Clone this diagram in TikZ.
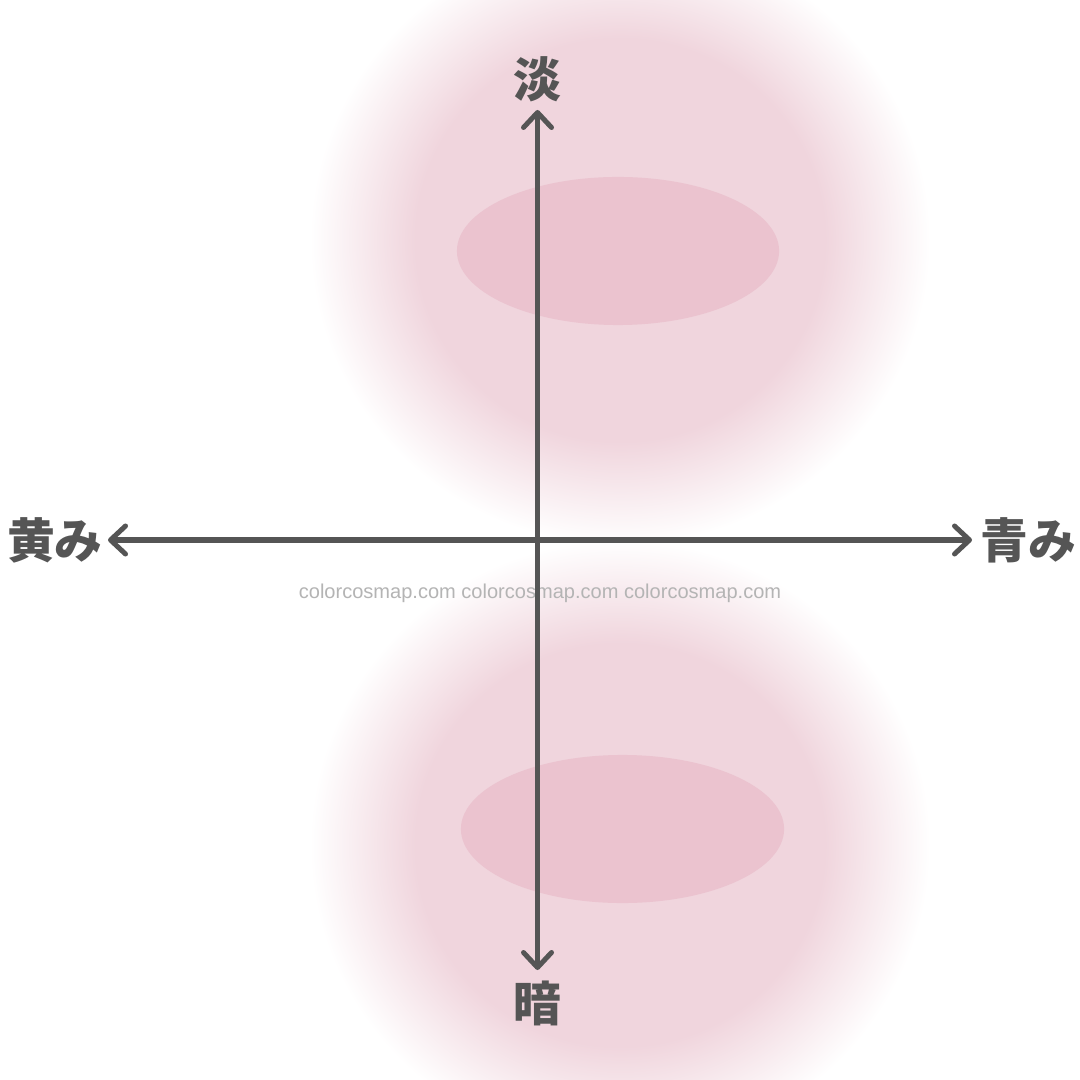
\documentclass[tikz,border=0pt]{standalone}
\usepackage{fontspec}
\setmainfont{Liberation Sans}
\newfontfamily\cjk{Noto Sans CJK JP}
\usetikzlibrary{arrows.meta}
\definecolor{blobc}{RGB}{240,213,221}
\definecolor{innerc}{RGB}{235,195,207}
\definecolor{axisc}{RGB}{85,85,85}
\definecolor{wmc}{RGB}{180,180,180}
\pgfdeclareradialshading{blob}{\pgfpoint{0bp}{0bp}}{color(0bp)=(blobc); color(16.5bp)=(blobc); color(25bp)=(white); color(50bp)=(white)}
\begin{document}
\begin{tikzpicture}[x=0.01cm,y=-0.01cm,
  axis/.style={draw=axisc, line width=0.05cm, >={Straight Barb[length=0.15cm,width=0.28cm,round]}, <->},
  lab/.style={text=axisc, font=\cjk\bfseries\fontsize{13.6}{16}\selectfont, inner sep=0pt},
  wm/.style={text=wmc, font=\fontsize{5.7}{7}\selectfont, inner sep=0pt},
  blobfill/.style={shading=blob},
  innerfill/.style={fill=innerc}]
\useasboundingbox (0,0) rectangle (1080,1080);
\clip (0,0) rectangle (1080,1080);
\fill[white] (0,0) rectangle (1080,1080);
% soft blobs
\shade[blobfill] (620,240) ellipse [x radius=3.1cm, y radius=3.05cm];
\shade[blobfill] (620,845) ellipse [x radius=3.1cm, y radius=3.05cm];
% inner ellipses
\fill[innerfill] (618,251) ellipse [x radius=1.61cm, y radius=0.74cm];
\fill[innerfill] (622.5,829) ellipse [x radius=1.615cm, y radius=0.74cm];
% watermark
\node[wm] (wmark) at (540,593) {colorcosmap.com colorcosmap.com colorcosmap.com};
% axes
\coordinate (top) at (537.5,110);
\coordinate (bot) at (537.5,970);
\coordinate (lft) at (108,540);
\coordinate (rgt) at (972,540);
\draw[axis] (lft) -- (rgt);
\draw[axis] (bot) -- (top);
% labels
\node[lab] (tan) at (537,79) {淡};
\node[lab] (an) at (537,1003) {暗};
\node[lab] (ki) at (55,540) {黄み};
\node[lab] (ao) at (1028,540) {青み};
\end{tikzpicture}
\end{document}
